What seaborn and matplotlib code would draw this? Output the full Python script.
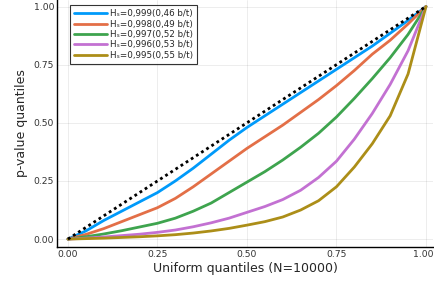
import numpy as np
import pandas as pd
import seaborn as sns
import matplotlib.pyplot as plt
import matplotlib.transforms as mtransforms

# uniform quantiles (x) and p-value quantiles
uniform_q = [0.0, 0.05, 0.1, 0.15, 0.2, 0.25, 0.3, 0.35, 0.4, 0.45, 0.5,
             0.55, 0.6, 0.65, 0.7, 0.75, 0.8, 0.85, 0.9, 0.95, 1.0]
q_999 = [0.0, 0.035, 0.08, 0.12, 0.16, 0.20, 0.25, 0.305, 0.365, 0.425, 0.48,
         0.53, 0.58, 0.63, 0.68, 0.73, 0.78, 0.83, 0.885, 0.94, 1.0]
q_998 = [0.0, 0.02, 0.045, 0.075, 0.105, 0.135, 0.175, 0.225, 0.28, 0.335, 0.39,
         0.44, 0.49, 0.545, 0.60, 0.66, 0.725, 0.795, 0.855, 0.925, 1.0]
q_997 = [0.0, 0.01, 0.022, 0.036, 0.052, 0.068, 0.09, 0.12, 0.155, 0.20, 0.245,
         0.29, 0.34, 0.395, 0.455, 0.525, 0.605, 0.69, 0.78, 0.88, 1.0]
q_996 = [0.0, 0.004, 0.009, 0.015, 0.021, 0.029, 0.039, 0.053, 0.07, 0.09, 0.115,
         0.14, 0.17, 0.21, 0.265, 0.335, 0.43, 0.54, 0.665, 0.81, 1.0]
q_995 = [0.0, 0.002, 0.004, 0.007, 0.01, 0.014, 0.019, 0.026, 0.035, 0.046, 0.06,
         0.075, 0.095, 0.125, 0.165, 0.225, 0.31, 0.41, 0.53, 0.71, 1.0]

labels = ["Hₛ=0,999(0,46 b/t)", "Hₛ=0,998(0,49 b/t)", "Hₛ=0,997(0,52 b/t)",
          "Hₛ=0,996(0,53 b/t)", "Hₛ=0,995(0,55 b/t)"]
colors = ["#009AFA", "#E36F47", "#3EA44E", "#C371D2", "#AC8E18"]
diag = [0.0, 1.0]

rows = []
for lab, ys in zip(labels, [q_999, q_998, q_997, q_996, q_995]):
    for x, y in zip(uniform_q, ys):
        rows.append({"x": x, "y": y, "series": lab})
df = pd.DataFrame(rows)

sns.set_style("white")
plt.rcParams['font.family'] = ['DejaVu Sans']

fig = plt.figure(figsize=(4.34, 2.81), dpi=100)
ax = fig.add_axes([0.131, 0.121, 0.867, 0.879])

sns.lineplot(data=df, x="x", y="y", hue="series", palette=colors,
             linewidth=2, ax=ax, sort=False)
ax.plot(diag, diag, color="black", linestyle=(0, (1, 1.2)), linewidth=2)

ax.set_xlim(-0.031, 1.02)
ax.set_ylim(-0.034, 1.028)
ticks = [0.0, 0.25, 0.5, 0.75, 1.0]
ax.set_xticks(ticks)
ax.set_yticks(ticks)
ax.set_xticklabels(["0.00", "0.25", "0.50", "0.75", "1.00"])
ax.set_yticklabels(["0.00", "0.25", "0.50", "0.75", "1.00"])
ax.tick_params(direction="in", length=3, width=0.8, labelsize=6.7, colors="black",
               labelcolor="#333333", pad=2)
# keep the last x label inside the canvas
last = ax.get_xticklabels()[-1]
last.set_transform(last.get_transform() +
                   mtransforms.ScaledTranslation(-3 / 100, 0, fig.dpi_scale_trans))
ax.grid(True, color="black", alpha=0.1, linewidth=0.5)
for s in ["top", "right"]:
    ax.spines[s].set_visible(False)
for s in ["left", "bottom"]:
    ax.spines[s].set_color("black")
    ax.spines[s].set_linewidth(1)

ax.set_xlabel("Uniform quantiles (N=10000)", fontsize=9, labelpad=2)
ax.set_ylabel("p-value quantiles", fontsize=9, labelpad=4)

leg = ax.legend(loc="upper left", bbox_to_anchor=(0.03, 0.985), fontsize=6.3,
                frameon=True, fancybox=False, handlelength=3.8, handletextpad=0.3,
                labelspacing=0.15, borderpad=0.45, borderaxespad=0.2)
leg.get_frame().set_edgecolor("black")
leg.get_frame().set_linewidth(0.8)

fig.savefig("out.png", dpi=100)
